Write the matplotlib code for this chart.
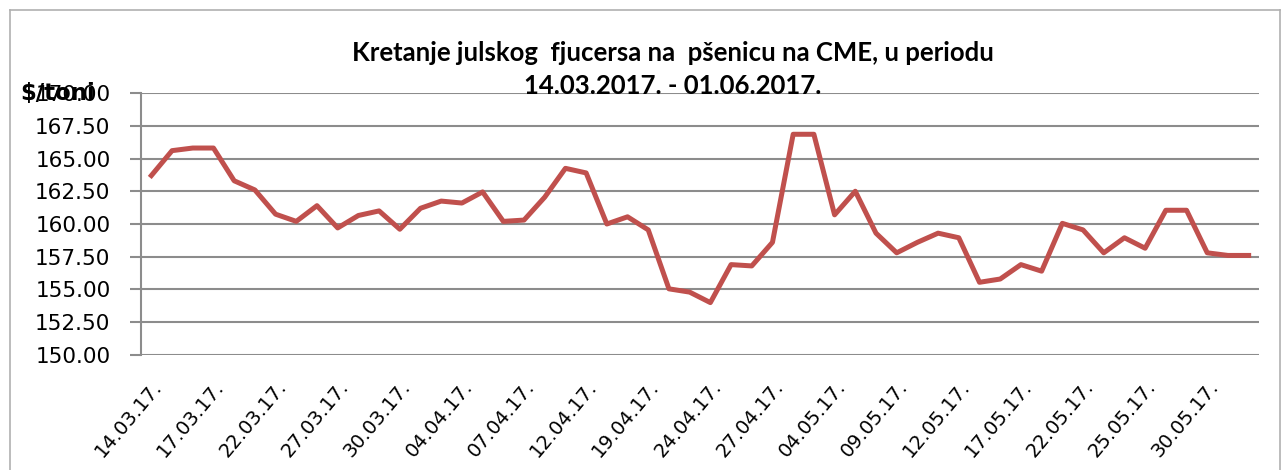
# -*- coding: utf-8 -*-
"""
Program to plot the July wheat futures price on CME (14.03.2017 - 01.06.2017)
"""
#Importing libraries
import matplotlib.pyplot as plt
from matplotlib.lines import Line2D

#Data
dates = ["14.03.17.", "15.03.17.", "16.03.17.", "17.03.17.", "20.03.17.", "21.03.17.",
         "22.03.17.", "23.03.17.", "24.03.17.", "27.03.17.", "28.03.17.", "29.03.17.",
         "30.03.17.", "31.03.17.", "03.04.17.", "04.04.17.", "05.04.17.", "06.04.17.",
         "07.04.17.", "10.04.17.", "11.04.17.", "12.04.17.", "13.04.17.", "18.04.17.",
         "19.04.17.", "20.04.17.", "21.04.17.", "24.04.17.", "25.04.17.", "26.04.17.",
         "27.04.17.", "28.04.17.", "03.05.17.", "04.05.17.", "05.05.17.", "08.05.17.",
         "09.05.17.", "10.05.17.", "11.05.17.", "12.05.17.", "15.05.17.", "16.05.17.",
         "17.05.17.", "18.05.17.", "19.05.17.", "22.05.17.", "23.05.17.", "24.05.17.",
         "25.05.17.", "26.05.17.", "29.05.17.", "30.05.17.", "31.05.17.", "01.06.17."]
prices = [163.7, 165.6, 165.8, 165.8, 163.3, 162.6, 160.75, 160.2, 161.4, 159.7,
          160.65, 161.0, 159.6, 161.2, 161.75, 161.6, 162.45, 160.2, 160.3, 162.05,
          164.25, 163.9, 160.0, 160.55, 159.55, 155.05, 154.8, 154.0, 156.9, 156.8,
          158.6, 166.85, 166.85, 160.7, 162.5, 159.3, 157.8, 158.6, 159.3, 158.95,
          155.55, 155.8, 156.9, 156.4, 160.05, 159.55, 157.8, 158.95, 158.15, 161.05,
          161.05, 157.8, 157.6, 157.6]
yticks = [150, 152.5, 155, 157.5, 160, 162.5, 165, 167.5, 170]
title = "Kretanje julskog  fjucersa na  pšenicu na CME, u periodu\n14.03.2017. - 01.06.2017."

plt.rcParams['font.family'] = ['DejaVu Sans']

fig = plt.figure(figsize=(12.83, 4.70), dpi=100)
ax = fig.add_axes([0.1099, 0.2447, 0.8714, 0.5574])

#line of prices
x = list(range(len(prices)))
ax.plot(x, prices, color="#C0504D", linewidth=3.6, zorder=3)

#axes, grid and ticks
ax.set_xlim(-0.5, len(prices) - 0.5)
ax.set_ylim(150, 170)
ax.set_yticks(yticks)
ax.set_yticklabels(["%.2f" % v for v in yticks], fontsize=15.5)
ax.yaxis.grid(True, color="#8c8c8c", linewidth=1.5)
ax.tick_params(axis="y", length=8, width=1.5, color="#8c8c8c", pad=14)
ax.set_xticks(x[::3])
ax.set_xticklabels(dates[::3], fontsize=14, rotation=50, ha="right", va="top",
                   rotation_mode="anchor")
ax.tick_params(axis="x", length=0, pad=16)
for s in ["top", "right", "bottom"]:
    ax.spines[s].set_visible(False)
ax.spines["left"].set_color("#8c8c8c")
ax.spines["left"].set_linewidth(1.5)

#title and unit label
fig.text(0.5245, 0.852, title, ha="center", va="center", fontsize=18.5,
         fontweight="bold", linespacing=1.45, family="Lato")
fig.text(0.016, 0.802, "$/toni", ha="left", va="center", fontsize=16.5, fontweight="bold")

#outer chart border
fig.add_artist(Line2D([0.008, 0.008], [0, 0.978], color="#b0b0b0", linewidth=1.2))
fig.add_artist(Line2D([0.008, 0.998], [0.978, 0.978], color="#b0b0b0", linewidth=1.2))
fig.add_artist(Line2D([0.998, 0.998], [0, 0.978], color="#b0b0b0", linewidth=1.2))

plt.savefig("out.png", dpi=100)
